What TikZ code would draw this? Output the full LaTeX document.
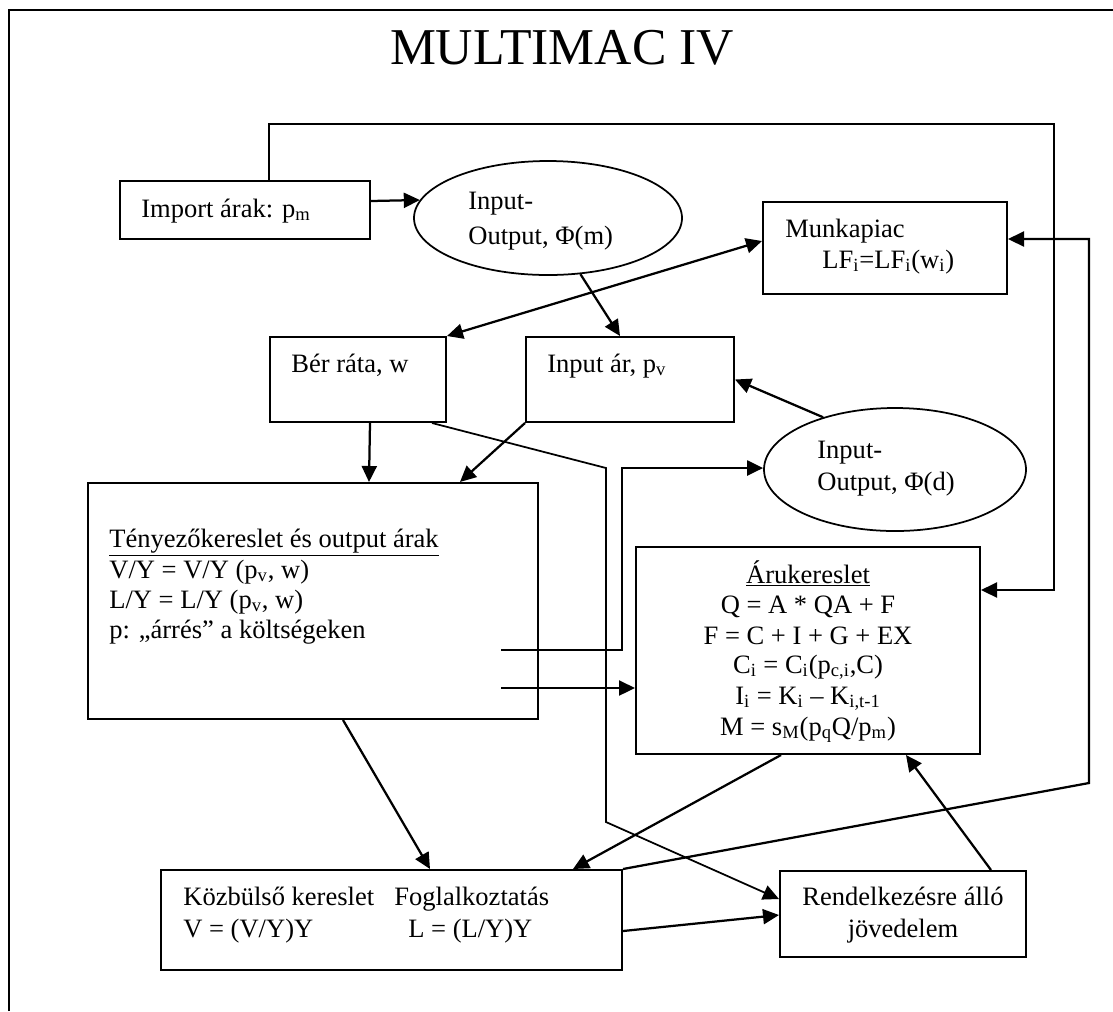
\documentclass[tikz,border=0pt]{standalone}
\usepackage{fontspec}
\setmainfont{Liberation Serif}
\usetikzlibrary{shapes.geometric,arrows.meta,calc}

\begin{document}
\begin{tikzpicture}[x=0.2mm, y=-0.2mm,
    box/.style args={#1x#2}{draw, line width=0.4mm, inner sep=0pt,
        minimum width=#1mm, minimum height=#2mm},
    oval/.style args={#1x#2}{ellipse, draw, line width=0.35mm, inner sep=0pt,
        minimum width=#1mm, minimum height=#2mm},
    txt/.style={anchor=base west, inner sep=0pt, font=\fontsize{15.1}{18}\selectfont},
    ctxt/.style={txt, anchor=base},
    conn/.style={line width=0.45mm},
    arr/.style={conn, -{Triangle[length=3.2mm, width=3mm]}},
    darr/.style={conn, {Triangle[length=3.2mm, width=3mm]}-{Triangle[length=3.2mm, width=3mm]}}]
    \useasboundingbox (0,0) rectangle (1113,1011);

    % Keret
    \draw[conn] (9.3,1011) -- (9.3,10) -- (1113,10);

    % Cím
    \node[ctxt, font=\fontsize{29.4}{34}\selectfont] (cim) at (562,64) {MULTIMAC IV};

    % Dobozok
    \node[box=50x11.6] (imp) at (245,210) {};
    \node[oval=53.6x22.8] (elm) at (548,218) {};
    \node[box=48.8x18.4] (mun) at (885,248) {};
    \node[box=35.2x17] (ber) at (358,379.5) {};
    \node[box=41.6x17] (inp) at (630,379.5) {};
    \node[oval=52.4x24.6] (eld) at (895,469.5) {};
    \node[box=90x47.2] (ten) at (313,601) {};
    \node[box=68.8x41.4] (aru) at (808,650.5) {};
    \node[box=92.2x20] (koz) at (391.5,920) {};
    \node[box=49.2x17.2] (ren) at (903,914) {};

    % Szövegek
    \node[txt] (impT) at (141,217) {Import árak: p\textsubscript{m}};
    \node[txt] (elmT1) at (468,209) {Input-};
    \node[txt] (elmT2) at (468,244) {Output, Φ(m)};
    \node[txt] (munT1) at (785,237) {Munkapiac};
    \node[txt] (munT2) at (822,268) {LF\textsubscript{i}=LF\textsubscript{i}(w\textsubscript{i})};
    \node[txt] (berT) at (291,372) {Bér ráta, w};
    \node[txt] (inpT) at (547,372) {Input ár, p\textsubscript{v}};
    \node[txt] (eldT1) at (817,458) {Input-};
    \node[txt] (eldT2) at (817,490) {Output, Φ(d)};
    \foreach \y/\t [count=\i] in {547/{\underline{Tényezőkereslet és output árak}},
        578/{V/Y = V/Y (p\textsubscript{v}, w)}, 608/{L/Y = L/Y (p\textsubscript{v}, w)},
        638/{p: „árrés” a költségeken}} {
        \node[txt] (tenT\i) at (109,\y) {\t};
    }
    \foreach \y/\t [count=\i] in {583/{\underline{Árukereslet}}, 613/{Q = A * QA + F},
        644/{F = C + I + G + EX}, 673/{C\textsubscript{i} = C\textsubscript{i}(p\textsubscript{c,i},C)},
        704/{I\textsubscript{i} = K\textsubscript{i} – K\textsubscript{i,t-1}},
        735/{M = s\textsubscript{M}(p\textsubscript{q}Q/p\textsubscript{m})}} {
        \node[ctxt] (aruT\i) at (808,\y) {\t};
    }
    \node[txt] (kozT1) at (183,905) {Közbülső kereslet};
    \node[txt] (kozT2) at (394,905) {Foglalkoztatás};
    \node[txt] (kozT3) at (183,937) {V = (V/Y)Y};
    \node[txt] (kozT4) at (408,937) {L = (L/Y)Y};
    \node[ctxt] (renT1) at (903,905) {Rendelkezésre álló};
    \node[ctxt] (renT2) at (903,937) {jövedelem};

    % Nyilak
    \coordinate (kR) at (1054,124);
    \coordinate (kB) at (1089,783);
    \coordinate (b1) at (606,468);
    \coordinate (b2) at (606,822);
    \coordinate (t1) at (622,468);
    \coordinate (t2) at ($(ten.east)+(-38,87)$);
    \draw[arr] ($(imp.north west)+(150,0)$) |- (kR) |- ($(aru.north east)+(0,44)$);
    \draw[arr] ($(imp.east)+(0,-9)$) -- (elm.172);
    \draw[arr] (elm.300) -- ($(inp.north west)+(95,0)$);
    \draw[darr] (ber.north east) -- ($(mun.west)+(0,-7)$);
    \draw[arr] (koz.north east) -- (kB) |- ($(mun.east)+(0,-9)$);
    \draw[arr] (eld.144) -- (inp.east);
    \draw[arr] ($(ber.south)+(12,0)$) -- ($(ten.north west)+(282,0)$);
    \draw[arr] (inp.south west) -- ($(ten.north west)+(373,0)$);
    \draw[arr, line width=0.35mm] ($(ber.south east)+(-15,0)$) -- (b1) -- (b2) -- ($(ren.west)+(0,-15)$);
    \draw[arr] ($(ten.east)+(-38,49)$) -| (t1) -- (t1 -| eld.west);
    \draw[arr] (t2) -- (t2 -| aru.west);
    \draw[arr] ($(ten.south west)+(256,0)$) -- ($(koz.north west)+(270,0)$);
    \draw[arr] ($(aru.south west)+(146,0)$) -- ($(koz.north west)+(413,0)$);
    \draw[arr] ($(ren.north west)+(212,0)$) -- ($(aru.south west)+(271,0)$);
    \draw[arr] ($(koz.east)+(0,11)$) -- ($(ren.west)+(0,1)$);
\end{tikzpicture}
\end{document}
